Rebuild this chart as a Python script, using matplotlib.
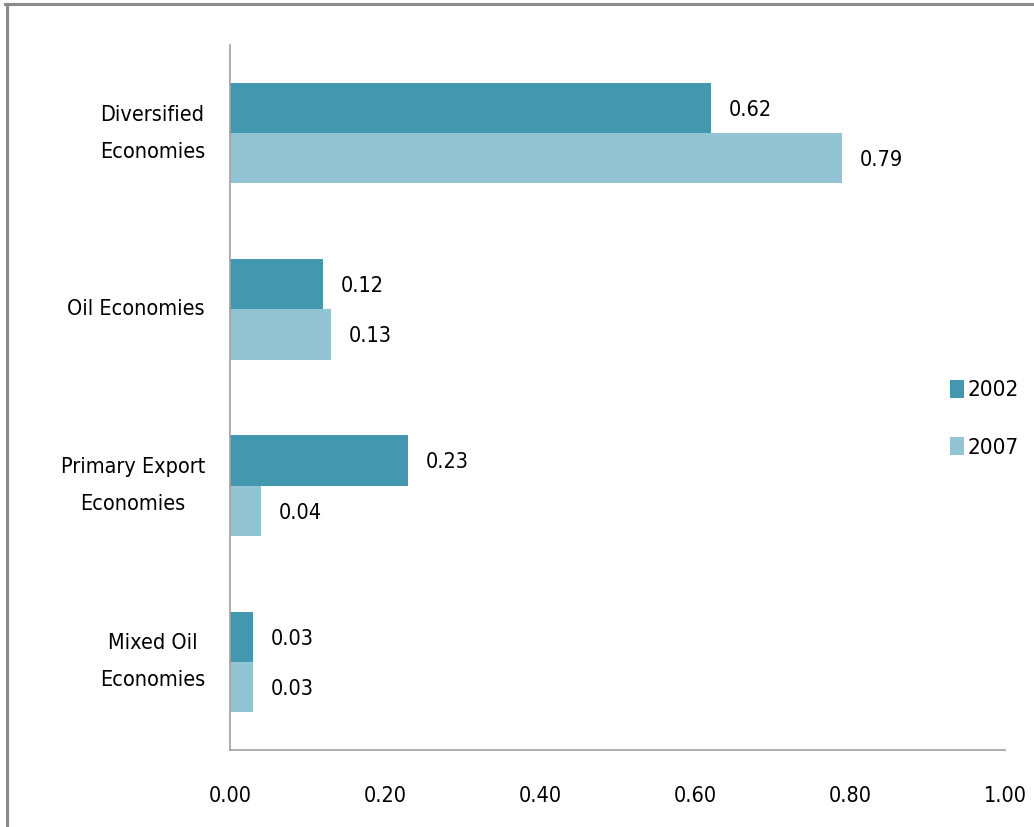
import matplotlib
matplotlib.use("Agg")
import matplotlib.pyplot as plt
import numpy as np
from matplotlib.lines import Line2D

categories = ["Diversified\nEconomies", "Oil Economies", "Primary Export\nEconomies", "Mixed Oil\nEconomies"]
values_2002 = [0.62, 0.12, 0.23, 0.03]
values_2007 = [0.79, 0.13, 0.04, 0.03]
xticks = [0.0, 0.2, 0.4, 0.6, 0.8, 1.0]

dark = "#4397ae"
light = "#93c4d4"

# condensed face is the closest we have to the narrow font of the original
plt.rcParams['font.family'] = ['DejaVu Sans']
plt.rcParams['font.stretch'] = 'condensed'

fig = plt.figure(figsize=(10.34, 8.27), dpi=100)
ax = fig.add_axes([230 / 1034, 1 - 750 / 827, 775 / 1034, 705 / 827])

y = np.arange(len(categories))
h = 0.285
b1 = ax.barh(y - h / 2, values_2002, height=h, color=dark, label="2002")
b2 = ax.barh(y + h / 2, values_2007, height=h, color=light, label="2007")

for bars in (b1, b2):
    for r in bars:
        w = r.get_width()
        ax.text(w + 0.023, r.get_y() + r.get_height() / 2 + 0.01, "%.2f" % w,
                va="center", ha="left", fontsize=15.5)

ax.set_ylim(len(categories) - 0.5, -0.5)
ax.set_xlim(0, 1.0)
ax.set_yticks(y)
ax.set_yticklabels(categories, fontsize=15.5, linespacing=2.05, ha="right",
                   va="center", multialignment="center")
ax.set_xticks(xticks)
ax.set_xticklabels(["%.2f" % t for t in xticks], fontsize=15.5)
ax.tick_params(axis="y", length=0, pad=18)
ax.tick_params(axis="x", length=0, pad=26)

for s in ("top", "right"):
    ax.spines[s].set_visible(False)
for s in ("left", "bottom"):
    ax.spines[s].set_color("#a0a0a0")
    ax.spines[s].set_linewidth(1.2)

ax.legend(loc="upper left", bbox_to_anchor=(941 / 1034, 1 - 371 / 827), bbox_transform=fig.transFigure,
          frameon=False, fontsize=16, handlelength=0.65, handleheight=0.85,
          handletextpad=0.15, labelspacing=1.65, borderaxespad=0)

# outer frame
fig.add_artist(Line2D([5 / 1034, 1], [1 - 4 / 827, 1 - 4 / 827], color="#8a8a8a", lw=2.2))
fig.add_artist(Line2D([7 / 1034, 7 / 1034], [0, 1 - 4 / 827], color="#8a8a8a", lw=2.2))

fig.savefig("out.png", dpi=100)
